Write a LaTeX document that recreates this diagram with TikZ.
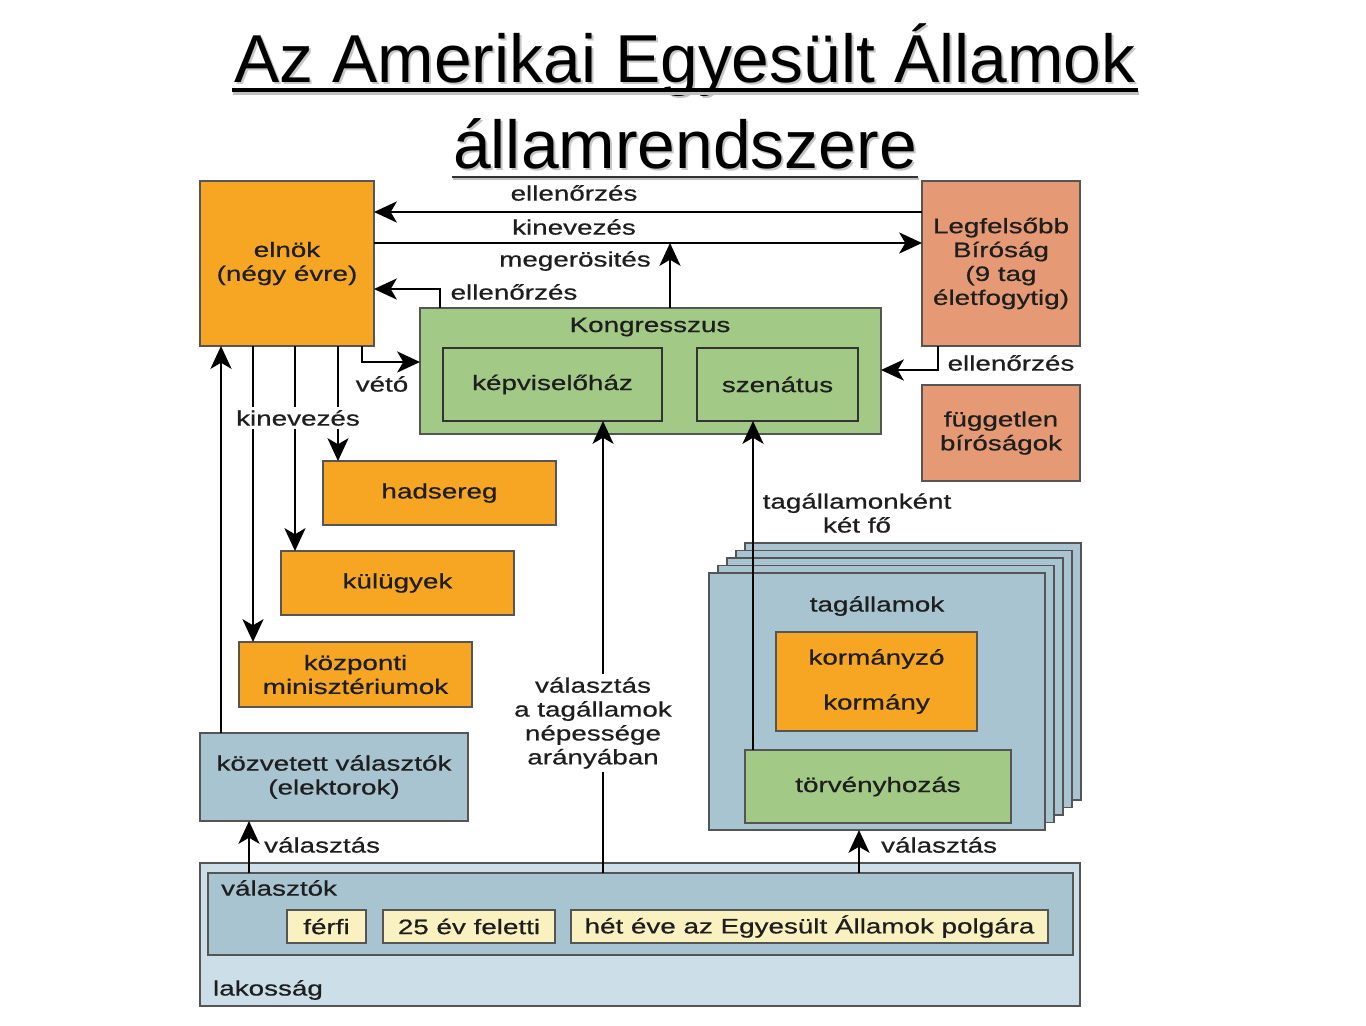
\documentclass[tikz,border=0pt]{standalone}
\usepackage{fontspec}
\setmainfont{Liberation Sans}
\newfontfamily\lab[FakeStretch=1.33,FakeBold=0.6]{Liberation Sans}
\usetikzlibrary{arrows.meta,calc}
\definecolor{orF}{RGB}{246,166,35}
\definecolor{saF}{RGB}{229,153,116}
\definecolor{grF}{RGB}{162,201,134}
\definecolor{blF}{RGB}{168,196,208}
\definecolor{lbF}{RGB}{204,223,232}
\definecolor{yeF}{RGB}{250,241,192}
\definecolor{bordC}{RGB}{85,85,85}
\definecolor{txtC}{RGB}{30,30,30}
\newcommand\bx[7]{%
  \pgfmathsetmacro\bw{(#4-#2)*0.02}%
  \pgfmathsetmacro\bh{(#5-#3)*0.02}%
  \node[#6, minimum width=\bw cm, minimum height=\bh cm] (#1) at ({(#2+#4)/2},{(#3+#5)/2}) {#7};}
\begin{document}
\begin{tikzpicture}[x=0.02cm,y=-0.02cm,
  lfont/.style={font=\lab\fontsize{11.9}{13.6}\selectfont},
  box/.style={draw=bordC, line width=0.8pt, inner sep=2pt, outer sep=0pt, align=center, lfont, text=txtC},
  ibox/.style={box, draw=black!80, line width=1.1pt},
  lbl/.style={lfont, inner sep=1pt, align=center, text=txtC},
  wlbl/.style={lbl, fill=white, inner sep=2pt},
  arr/.style={line width=1.3pt, -{Stealth[length=13pt,width=12pt,inset=3.5pt]}},
  ttl/.style={font=\fontsize{38.6}{44}\selectfont, inner sep=0pt, anchor=base}]
\useasboundingbox (0,0) rectangle (1366,1025);
\fill[white] (0,0) rectangle (1366,1025);

% title
\node[ttl, text=gray!45] at (687,84) {Az Amerikai Egyesült Államok};
\node[ttl] (t1) at (685,82) {Az Amerikai Egyesült Államok};
\node[ttl, text=gray!45] at (687,170) {államrendszere};
\node[ttl] (t2) at (685,168) {államrendszere};
\draw[gray!50, line width=2.3pt] (233,93) -- (1139,93);
\draw[black, line width=2.3pt] (232,90) -- (1138,90);
\draw[gray!50, line width=1.1pt] (453,179) -- (919,179);
\draw[black!80, line width=1.1pt] (452,177) -- (918,177);

% boxes
\bx{el}{200}{181}{374}{346}{box, fill=orF}{elnök\\(négy évre)}
\bx{lb}{922}{181}{1080}{346}{box, fill=saF}{Legfelsőbb\\Bíróság\\(9 tag\\életfogytig)}
\bx{fb}{922}{385}{1080}{481}{box, fill=saF}{független\\bíróságok}
\bx{kg}{420}{308}{881}{434}{box, fill=grF}{}
\node[lbl] (kgl) at (650,327) {Kongresszus};
\bx{kh}{443}{348}{662}{421}{ibox, fill=grF}{képviselőház}
\bx{sz}{697}{348}{858}{421}{ibox, fill=grF}{szenátus}
\bx{hs}{323}{461}{556}{525}{box, fill=orF}{hadsereg}
\bx{ku}{281}{551}{514}{615}{box, fill=orF}{külügyek}
\bx{kp}{239}{642}{472}{707}{box, fill=orF}{központi\\minisztériumok}
\bx{kv}{200}{733}{468}{821}{box, fill=blF}{közvetett választók\\(elektorok)}

% stacked member states
\bx{ta4}{745}{543}{1081}{800}{box, fill=blF}{}
\bx{ta3}{736}{550.5}{1072}{807.5}{box, fill=blF}{}
\bx{ta2}{727}{558}{1063}{815}{box, fill=blF}{}
\bx{ta1}{718}{565.5}{1054}{822.5}{box, fill=blF}{}
\bx{ta0}{709}{573}{1045}{830}{box, fill=blF}{}
\node[lbl] (tal) at (877,606) {tagállamok};
\bx{ko}{776}{632}{977}{731}{box, fill=orF}{kormányzó\\[12pt]kormány}
\bx{tv}{745}{750}{1011}{823}{box, fill=grF}{törvényhozás}

% population
\bx{lk}{200}{863}{1080}{1006}{box, fill=lbF}{}
\node[lbl, anchor=west] (lkl) at (211,990) {lakosság};
\bx{vk}{208}{873}{1073}{955}{box, fill=blF}{}
\node[lbl, anchor=west] (vkl) at (219,888) {választók};
\bx{y1}{287}{910}{366}{943}{box, fill=yeF}{férfi}
\bx{y2}{383}{910}{555}{943}{box, fill=yeF}{25 év feletti}
\bx{y3}{571}{910}{1048}{943}{box, fill=yeF}{hét éve az Egyesült Államok polgára}

% top connectors
\draw[arr] (lb.west |- 0,212) -- (el.east |- 0,212);
\node[lbl] (l1) at (574,193) {ellenőrzés};
\draw[arr] (el.east |- 0,243) -- (lb.west |- 0,243);
\node[lbl] (l2) at (574,227) {kinevezés};
\coordinate (mtop) at (670,243);
\draw[arr] (kg.north -| 670,0) -- (mtop);
\node[lbl] (l3) at (575,261) {megerösités};
\draw[arr] (kg.north -| 440,0) |- (el.east |- 0,289);
\node[lbl] (l4) at (514,292) {ellenőrzés};
\draw[arr] (el.south -| 362,0) |- (kg.west |- 0,362);
\node[lbl] (l5) at (382,384) {vétó};
\draw[arr] (lb.south -| 938,0) |- (kg.east |- 0,370);
\node[lbl] (l6) at (1011,363) {ellenőrzés};

% left connectors
\draw[arr] (kv.north -| 221,0) -- (el.south -| 221,0);
\draw[arr] (el.south -| 253,0) -- (kp.north -| 253,0);
\draw[arr] (el.south -| 295,0) -- (ku.north -| 295,0);
\draw[arr] (el.south -| 338,0) -- (hs.north -| 338,0);
\node[wlbl] (l7) at (298,418) {kinevezés};

% elections
\draw[arr] (vk.north -| 249,0) -- (kv.south -| 249,0);
\node[lbl, anchor=west] (l8) at (262,845) {választás};
\draw[arr] (vk.north -| 603,0) -- (kh.south -| 603,0);
\node[wlbl] (l9) at (593,723) {választás\\a tagállamok\\népessége\\arányában};
\draw[arr] (tv.north -| 753,0) -- (sz.south -| 753,0);
\node[lbl] (l10) at (857,513) {tagállamonként\\két fő};
\draw[arr] (vk.north -| 859,0) -- (ta0.south -| 859,0);
\node[lbl, anchor=west] (l11) at (879,845) {választás};
\end{tikzpicture}
\end{document}
